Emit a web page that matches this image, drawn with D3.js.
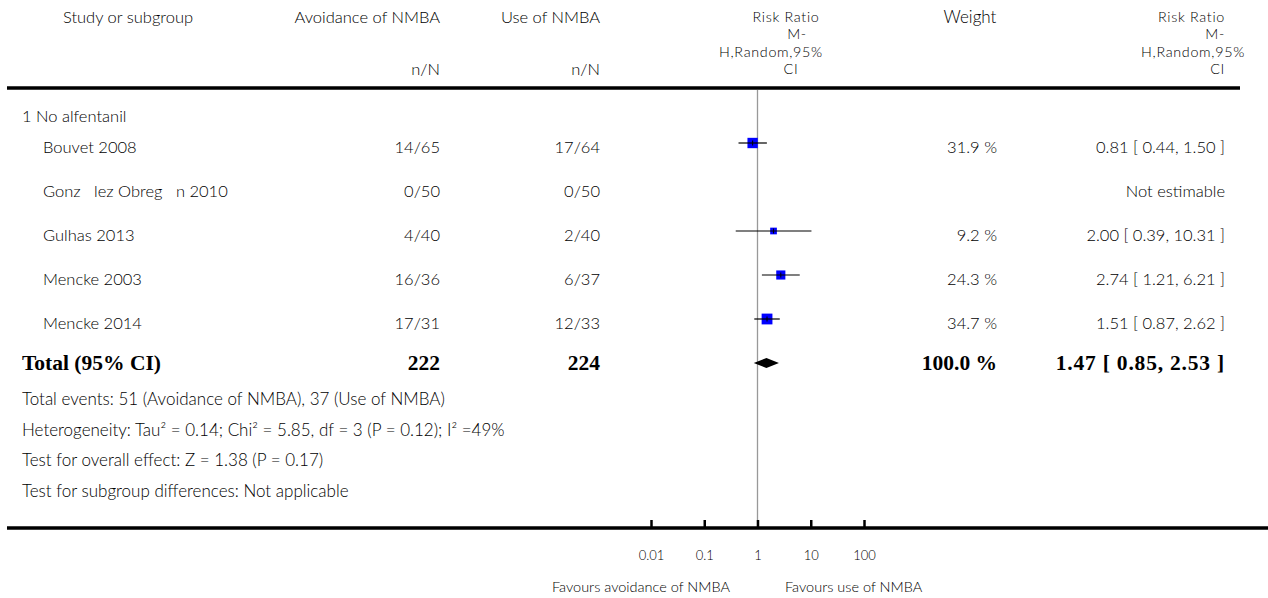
<!DOCTYPE html>
<html>
<head>
<meta charset="utf-8">
<script src="https://cdn.jsdelivr.net/npm/d3@7"></script>
<style>
  html, body { margin: 0; padding: 0; background: #fff; }
  svg { display: block; }
  text { font-family: "Lato", "Open Sans", sans-serif; font-weight: 300; fill: #000; white-space: pre; }
  .bold { font-family: "Liberation Serif", "DejaVu Serif", serif; font-weight: 700; fill: #000; }
</style>
</head>
<body>
<svg id="chart" width="1268" height="598"></svg>
<script>
// ---------- data ----------
const subgroupLabel = "1 No alfentanil";
const studies = ["Bouvet 2008", "Gonz   lez Obreg   n 2010", "Gulhas 2013", "Mencke 2003", "Mencke 2014"];
const avoidEvents = [14, 0, 4, 16, 17];
const avoidTotals = [65, 50, 40, 36, 31];
const useEvents = [17, 0, 2, 6, 12];
const useTotals = [64, 50, 40, 37, 33];
const riskRatio = [0.81, null, 2.00, 2.74, 1.51];
const ciLow = [0.44, null, 0.39, 1.21, 0.87];
const ciHigh = [1.50, null, 10.31, 6.21, 2.62];
const weights = [31.9, null, 9.2, 24.3, 34.7];

const totalAvoid = 222, totalUse = 224;
const totalRR = 1.47, totalLow = 0.85, totalHigh = 2.53, totalWeight = 100.0;

const tickValues = [0.01, 0.1, 1, 10, 100];
const tickLabels = ["0.01", "0.1", "1", "10", "100"];

const footerLines = [
  "Total events: 51 (Avoidance of NMBA), 37 (Use of NMBA)",
  "Heterogeneity: Tau\u00B2 = 0.14; Chi\u00B2 = 5.85, df = 3 (P = 0.12); I\u00B2 =49%",
  "Test for overall effect: Z = 1.38 (P = 0.17)",
  "Test for subgroup differences: Not applicable"
];
const favoursLeft = "Favours avoidance of NMBA";
const favoursRight = "Favours use of NMBA";

// ---------- layout ----------
const svg = d3.select("#chart");
const x = d3.scaleLog().domain([0.01, 100]).range([651, 864]);
const y = d3.scaleLinear().domain([0, 5]).range([143, 363]);
const size = d3.scaleLinear().domain([9.2, 34.7]).range([6.7, 10.8]);
const headerY = 88, axisY = 528;
const fs = 16.5;

// header
const hdr = svg.append("g").style("font-size", fs + "px");
hdr.append("text").attr("x", 128).attr("y", 23).attr("text-anchor", "middle").text("Study or subgroup");
hdr.append("text").attr("x", 440).attr("y", 23).attr("text-anchor", "end").text("Avoidance of NMBA");
hdr.append("text").attr("x", 440).attr("y", 75).attr("text-anchor", "end").text("n/N");
hdr.append("text").attr("x", 600).attr("y", 23).attr("text-anchor", "end").text("Use of NMBA");
hdr.append("text").attr("x", 600).attr("y", 75).attr("text-anchor", "end").text("n/N");
const hfs = "14.3px", hls = "0.7px";
const rrHead = [["Risk Ratio", 786, 21.5], ["M-", 797, 39], ["H,Random,95%", 771, 56.5], ["CI", 791, 74]];
rrHead.forEach(d => hdr.append("text").attr("x", d[1]).attr("y", d[2]).attr("text-anchor", "middle")
  .style("font-size", hfs).style("letter-spacing", hls).text(d[0]));
hdr.append("text").attr("x", 970).attr("y", 23).attr("text-anchor", "middle").style("font-size", "17px").text("Weight");
const rrHead2 = [["Risk Ratio", 1225, 21.5], ["M-", 1225, 39], ["H,Random,95%", 1245, 56.5], ["CI", 1225, 74]];
rrHead2.forEach(d => hdr.append("text").attr("x", d[1]).attr("y", d[2]).attr("text-anchor", "end")
  .style("font-size", hfs).style("letter-spacing", hls).text(d[0]));

svg.append("line").attr("x1", 7).attr("x2", 1240).attr("y1", headerY).attr("y2", headerY)
  .attr("stroke", "#000").attr("stroke-width", 3.5);

// reference line at 1
svg.append("line").attr("x1", x(1)).attr("x2", x(1)).attr("y1", headerY + 2).attr("y2", axisY)
  .attr("stroke", "#999").attr("stroke-width", 1.3);

// subgroup label
svg.append("text").attr("x", 22).attr("y", 122).style("font-size", fs + "px").text(subgroupLabel);

// study rows
const rows = svg.append("g").style("font-size", fs + "px");
studies.forEach((name, i) => {
  const yy = y(i) + 10;
  rows.append("text").attr("x", 43).attr("y", yy).text(name);
  rows.append("text").attr("x", 440).attr("y", yy).attr("text-anchor", "end").text(avoidEvents[i] + "/" + avoidTotals[i]);
  rows.append("text").attr("x", 600).attr("y", yy).attr("text-anchor", "end").text(useEvents[i] + "/" + useTotals[i]);
  if (weights[i] != null) {
    rows.append("text").attr("x", 997).attr("y", yy).attr("text-anchor", "end").text(weights[i].toFixed(1) + " %");
    rows.append("text").attr("x", 1225).attr("y", yy).attr("text-anchor", "end")
      .text(riskRatio[i].toFixed(2) + " [ " + ciLow[i].toFixed(2) + ", " + ciHigh[i].toFixed(2) + " ]");
  } else {
    rows.append("text").attr("x", 1225).attr("y", yy).attr("text-anchor", "end").text("Not estimable");
  }
});

// markers
const marks = svg.append("g");
studies.forEach((name, i) => {
  if (riskRatio[i] == null) return;
  const cy = y(i), cx = x(riskRatio[i]), s = size(weights[i]);
  marks.append("rect").attr("x", cx - s / 2).attr("y", cy - s / 2).attr("width", s).attr("height", s).attr("fill", "#0000ff");
  marks.append("line").attr("x1", x(ciLow[i])).attr("x2", x(ciHigh[i])).attr("y1", cy).attr("y2", cy)
    .attr("stroke", "#000").attr("stroke-width", 1.2);
  marks.append("line").attr("x1", cx).attr("x2", cx).attr("y1", cy - 2.5).attr("y2", cy + 2.5)
    .attr("stroke", "#000").attr("stroke-width", 1);
});

// total row
const ty = y(5);
const bfs = "21.5px";
svg.append("text").attr("class", "bold").attr("x", 22).attr("y", ty + 7).style("font-size", bfs).text("Total (95% CI)");
svg.append("text").attr("class", "bold").attr("x", 440).attr("y", ty + 7).attr("text-anchor", "end").style("font-size", bfs).text(totalAvoid);
svg.append("text").attr("class", "bold").attr("x", 600).attr("y", ty + 7).attr("text-anchor", "end").style("font-size", bfs).text(totalUse);
svg.append("text").attr("class", "bold").attr("x", 997).attr("y", ty + 7).attr("text-anchor", "end").style("font-size", bfs).text(totalWeight.toFixed(1) + " %");
svg.append("text").attr("class", "bold").attr("x", 1225).attr("y", ty + 7).attr("text-anchor", "end").style("font-size", bfs)
  .style("letter-spacing", "0.8px")
  .text(totalRR.toFixed(2) + " [ " + totalLow.toFixed(2) + ", " + totalHigh.toFixed(2) + " ]");
svg.append("path")
  .attr("d", `M${x(totalLow)},${ty} L${x(totalRR)},${ty - 5} L${x(totalHigh)},${ty} L${x(totalRR)},${ty + 5} Z`)
  .attr("fill", "#000");

// footer
footerLines.forEach((t, i) => {
  svg.append("text").attr("x", 22).attr("y", 405 + i * 30.7).style("font-size", "17px").text(t);
});

// axis
svg.append("line").attr("x1", 7).attr("x2", 1268).attr("y1", axisY).attr("y2", axisY)
  .attr("stroke", "#000").attr("stroke-width", 3.5);
const axis = d3.axisBottom(x).tickValues(tickValues).tickFormat((d, i) => tickLabels[i]).tickSizeInner(-8).tickSizeOuter(0).tickPadding(20);
const ag = svg.append("g").attr("transform", `translate(0,${axisY})`).call(axis);
ag.select(".domain").remove();
ag.selectAll(".tick line").attr("stroke", "#000").attr("stroke-width", 2.5);
ag.selectAll(".tick text").style("font-family", "Lato, sans-serif").style("font-weight", 300).style("font-size", "13px").attr("fill", "#000").attr("dy", "0.71em").attr("y", 23);

svg.append("text").attr("x", 730).attr("y", 592).attr("text-anchor", "end").style("font-size", "14.5px").text(favoursLeft);
svg.append("text").attr("x", 785).attr("y", 592).style("font-size", "14.5px").text(favoursRight);
</script>
</body>
</html>
